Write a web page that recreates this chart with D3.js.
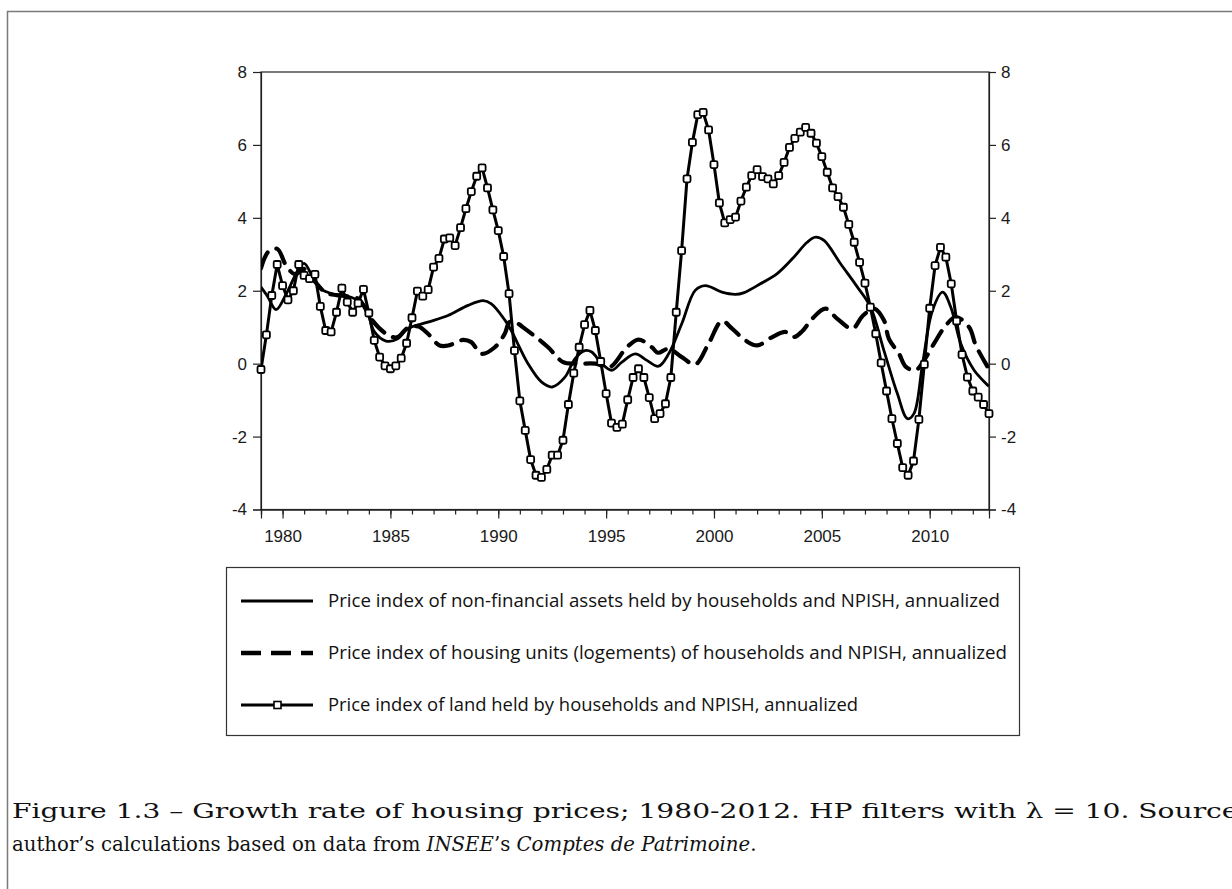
<!DOCTYPE html>
<html>
<head>
<meta charset="utf-8">
<script src="https://cdn.jsdelivr.net/npm/d3@7"></script>
<style>
html, body { margin: 0; padding: 0; background: #fff; }
svg { display: block; }
</style>
</head>
<body>
<svg id="chart" width="1232" height="889"></svg>
<script>
// ---------------- DATA ----------------
const xTickYears = [1980, 1985, 1990, 1995, 2000, 2005, 2010];
const yTickValues = [-4, -2, 0, 2, 4, 6, 8];

// Price index of land (quarterly, 1979Q1 .. 2012Q4)
const landStartYear = 1979;
const landValues = [
  -0.16, 0.79, 1.87, 2.72,
  2.14, 1.75, 2.00, 2.72,
  2.42, 2.33, 2.45, 1.57,
  0.91, 0.87, 1.41, 2.07,
  1.69, 1.41, 1.66, 2.04,
  1.39, 0.64, 0.18, -0.06,
  -0.14, -0.06, 0.15, 0.56,
  1.26, 1.99, 1.85, 2.03,
  2.65, 2.89, 3.42, 3.45,
  3.24, 3.73, 4.25, 4.72,
  5.14, 5.37, 4.82, 4.22,
  3.65, 2.94, 1.92, 0.36,
  -1.02, -1.83, -2.63, -3.06,
  -3.12, -2.90, -2.51, -2.51,
  -2.10, -1.12, -0.26, 0.45,
  1.07, 1.46, 0.91, 0.06,
  -0.82, -1.63, -1.75, -1.66,
  -0.99, -0.38, -0.14, -0.38,
  -0.93, -1.51, -1.37, -1.10,
  -0.38, 1.41, 3.10, 5.07,
  6.07, 6.83, 6.89, 6.41,
  5.46, 4.41, 3.86, 3.95,
  4.02, 4.46, 4.84, 5.16,
  5.32, 5.13, 5.07, 4.93,
  5.16, 5.52, 5.93, 6.18,
  6.35, 6.48, 6.32, 6.05,
  5.68, 5.25, 4.82, 4.58,
  4.29, 3.82, 3.33, 2.78,
  2.21, 1.55, 0.82, 0.02,
  -0.75, -1.51, -2.19, -2.85,
  -3.06, -2.67, -1.53, -0.02,
  1.52, 2.69, 3.19, 2.92,
  2.19, 1.17, 0.25, -0.37,
  -0.75, -0.92, -1.12, -1.37
];

// Price index of non-financial assets (smooth line, read at these dates)
const nfaYears = [1979.0, 1979.3, 1979.7, 1980.2, 1980.7, 1981.0, 1981.4, 1981.78, 1982.4, 1983.18,
  1983.8, 1984.26, 1984.8, 1985.34, 1985.8, 1986.74, 1987.67, 1988.6, 1989.3, 1989.68,
  1990.3, 1990.6, 1991.38, 1992.0, 1992.5, 1993.09, 1993.56, 1994.02, 1994.33, 1994.8,
  1995.26, 1995.73, 1996.35, 1996.89, 1997.43, 1997.9, 1998.51, 1999.13, 1999.6, 2000.37,
  2000.99, 2001.4, 2002.15, 2002.93, 2003.7, 2004.32, 2004.71, 2005.1, 2005.87, 2006.65,
  2007.26, 2007.88, 2008.5, 2008.97, 2009.27, 2009.67, 2010.13, 2010.6, 2010.98, 2011.44,
  2012.06, 2012.75];
const nfaValues = [2.1, 1.85, 1.48, 1.95, 2.55, 2.75, 2.37, 2.05, 1.9, 1.82,
  1.6, 0.87, 0.62, 0.68, 0.96, 1.14, 1.32, 1.6, 1.73, 1.64,
  1.2, 0.91, 0.0, -0.5, -0.64, -0.37, 0.14, 0.36, 0.32, 0.0,
  -0.18, 0.04, 0.27, 0.09, -0.07, 0.27, 1.1, 2.01, 2.14, 1.96,
  1.9, 1.95, 2.19, 2.47, 2.92, 3.33, 3.47, 3.38, 2.74, 2.1,
  1.55, 0.36, -0.82, -1.51, -1.37, 0.0, 1.46, 1.96, 1.55, 0.55,
  -0.18, -0.62];

// Price index of housing units (dashed line, read at these dates)
const housingYears = [1979.0, 1979.35, 1979.75, 1980.2, 1980.6, 1981.0, 1981.5, 1982.0, 1982.5, 1983.0,
  1983.5, 1983.8, 1984.1, 1984.8, 1985.3, 1985.8, 1986.3, 1986.74, 1987.28, 1987.7,
  1988.36, 1988.75, 1989.22, 1989.84, 1990.3, 1990.53, 1990.9, 1991.23, 1991.85, 1992.31,
  1993.01, 1993.6, 1994.5, 1995.18, 1995.96, 1996.5, 1997.12, 1997.4, 1997.9, 1998.51,
  1999.13, 1999.75, 2000.37, 2000.84, 2001.45, 2002.0, 2002.7, 2003.31, 2003.7, 2004.09,
  2004.55, 2005.17, 2005.72, 2006.42, 2006.88, 2007.42, 2007.88, 2008.11, 2008.58, 2008.9,
  2009.35, 2009.75, 2010.2, 2010.75, 2011.21, 2011.83, 2012.14, 2012.75];
const housingValues = [2.62, 3.08, 3.15, 2.65, 2.45, 2.6, 2.25, 1.95, 1.88, 1.85,
  1.78, 1.55, 1.23, 0.82, 0.72, 0.98, 1.02, 0.82, 0.5, 0.5,
  0.65, 0.59, 0.27, 0.45, 0.82, 1.15, 1.1, 0.96, 0.68, 0.45,
  0.04, 0.0, 0.0, -0.09, 0.45, 0.66, 0.45, 0.3, 0.41, 0.18,
  -0.02, 0.55, 1.17, 0.96, 0.64, 0.5, 0.73, 0.87, 0.73, 0.89,
  1.23, 1.51, 1.23, 0.96, 1.30, 1.51, 1.19, 0.68, 0.27, -0.09,
  -0.18, 0.1, 0.55, 1.05, 1.28, 1.0, 0.5, -0.15];

const legendLabels = [
  "Price index of non-financial assets held by households and NPISH, annualized",
  "Price index of housing units (logements) of households and NPISH, annualized",
  "Price index of land held by households and NPISH, annualized"
];

// ---------------- DRAW ----------------
const svg = d3.select("#chart");

// outer figure frame
svg.append("rect").attr("x", 7.5).attr("y", 11.5).attr("width", 1400).attr("height", 1000)
  .attr("fill", "none").attr("stroke", "#7a7a7a").attr("stroke-width", 1.5);

const plot = { left: 261, right: 989, top: 72, bottom: 509.5 };
const x = d3.scaleLinear().domain([1979, 2012.75]).range([plot.left, plot.right]);
const y = d3.scaleLinear().domain([-4, 8]).range([plot.bottom, plot.top]);

const axisFont = "'Liberation Sans', Arial, sans-serif";
const fmt = d => String(d);

// frame of plot
svg.append("rect").attr("x", plot.left).attr("y", plot.top)
  .attr("width", plot.right - plot.left).attr("height", plot.bottom - plot.top)
  .attr("fill", "none").attr("stroke", "#222").attr("stroke-width", 1.2);

const yl = svg.append("g").attr("transform", `translate(${plot.left},0)`)
  .call(d3.axisLeft(y).tickValues(yTickValues).tickFormat(fmt).tickSize(8).tickPadding(6));
const yr = svg.append("g").attr("transform", `translate(${plot.right},0)`)
  .call(d3.axisRight(y).tickValues(yTickValues).tickFormat(fmt).tickSize(7).tickPadding(5));
const minorYears = d3.range(1979, 2013);
const xb = svg.append("g").attr("transform", `translate(0,${plot.bottom})`)
  .call(d3.axisBottom(x).tickValues(minorYears).tickFormat("").tickSize(5));
const xm = svg.append("g").attr("transform", `translate(0,${plot.bottom})`)
  .call(d3.axisBottom(x).tickValues(xTickYears).tickFormat(fmt).tickSize(9).tickPadding(11));

[yl, yr, xb, xm].forEach(g => {
  g.attr("font-size", 17).attr("font-family", axisFont);
  g.select(".domain").attr("stroke", "#222").attr("stroke-width", 1.2);
  g.selectAll(".tick line").attr("stroke", "#222").attr("stroke-width", 1.2);
  g.selectAll(".tick text").style("font-family", axisFont).style("font-size", "17px").attr("fill", "#1a1a1a");
});

svg.append("clipPath").attr("id", "plotclip").append("rect")
  .attr("x", plot.left).attr("y", plot.top - 10).attr("width", plot.right - plot.left).attr("height", plot.bottom - plot.top + 10);

const g = svg.append("g").attr("clip-path", "url(#plotclip)");
const curve = d3.curveCatmullRom.alpha(0.5);

// housing (dashed)
const housingPts = housingYears.map((t, i) => [t, housingValues[i]]);
g.append("path").datum(housingPts)
  .attr("d", d3.line().x(d => x(d[0])).y(d => y(d[1])).curve(curve))
  .attr("fill", "none").attr("stroke", "#000").attr("stroke-width", 4.2)
  .attr("stroke-dasharray", "17,10").attr("stroke-linecap", "round");

// non-financial assets (solid)
const nfaPts = nfaYears.map((t, i) => [t, nfaValues[i]]);
g.append("path").datum(nfaPts)
  .attr("d", d3.line().x(d => x(d[0])).y(d => y(d[1])).curve(curve))
  .attr("fill", "none").attr("stroke", "#000").attr("stroke-width", 2.8);

// land (solid with square markers)
const landPts = landValues.map((v, i) => [landStartYear + i / 4, v]);
g.append("path").datum(landPts)
  .attr("d", d3.line().x(d => x(d[0])).y(d => y(d[1])))
  .attr("fill", "none").attr("stroke", "#000").attr("stroke-width", 3);
svg.append("g").selectAll("rect").data(landPts).join("rect")
  .attr("x", d => x(d[0]) - 3.5).attr("y", d => y(d[1]) - 3.5)
  .attr("width", 7).attr("height", 7).attr("rx", 1.5)
  .attr("fill", "#fff").attr("stroke", "#000").attr("stroke-width", 1.8);

// ---------------- LEGEND ----------------
const lg = svg.append("g");
lg.append("rect").attr("x", 226.5).attr("y", 567.5).attr("width", 793).attr("height", 168)
  .attr("fill", "#fff").attr("stroke", "#333").attr("stroke-width", 1.2);
const rowsY = [601, 653, 705];
const textLens = [672, 679, 530];
const legendFont = "'Liberation Sans Narrow', 'Open Sans', sans-serif";
lg.append("line").attr("x1", 241).attr("x2", 313).attr("y1", rowsY[0]).attr("y2", rowsY[0])
  .attr("stroke", "#000").attr("stroke-width", 3);
lg.append("line").attr("x1", 241).attr("x2", 313).attr("y1", rowsY[1]).attr("y2", rowsY[1])
  .attr("stroke", "#000").attr("stroke-width", 4.5).attr("stroke-dasharray", "20,10");
lg.append("line").attr("x1", 241).attr("x2", 313).attr("y1", rowsY[2]).attr("y2", rowsY[2])
  .attr("stroke", "#000").attr("stroke-width", 3);
lg.append("rect").attr("x", 274).attr("y", rowsY[2] - 3.5).attr("width", 7).attr("height", 7)
  .attr("fill", "#fff").attr("stroke", "#000").attr("stroke-width", 1.6);
legendLabels.forEach((t, i) => {
  lg.append("text").attr("x", 328).attr("y", rowsY[i] + 6).text(t)
    .attr("font-family", legendFont).attr("font-size", 18).attr("fill", "#111")
    .attr("textLength", textLens[i]).attr("lengthAdjust", "spacingAndGlyphs");
});

// ---------------- CAPTION ----------------
const capFont = "'DejaVu Serif', 'Liberation Serif', serif";
const cap2 = svg.append("text").attr("x", 12).attr("y", 851)
  .attr("font-family", capFont).attr("font-size", 20).attr("fill", "#111");
cap2.append("tspan").text("author’s calculations based on data from ");
cap2.append("tspan").attr("font-style", "italic").text("INSEE");
cap2.append("tspan").text("’s ");
cap2.append("tspan").attr("font-style", "italic").text("Comptes de Patrimoine");
cap2.append("tspan").text(".");
const w2 = cap2.node().getComputedTextLength();
const capSize = 20 * 745 / (w2 || 745);
cap2.attr("font-size", capSize);

const line1 = "Figure 1.3 – Growth rate of housing prices; 1980-2012. HP filters with λ = 10. Source:";
svg.append("text").attr("x", 12).attr("y", 818)
  .attr("font-family", capFont).attr("font-size", capSize * 1.08).attr("fill", "#111")
  .attr("textLength", 1236).attr("lengthAdjust", "spacingAndGlyphs")
  .text(line1);
</script>
</body>
</html>
